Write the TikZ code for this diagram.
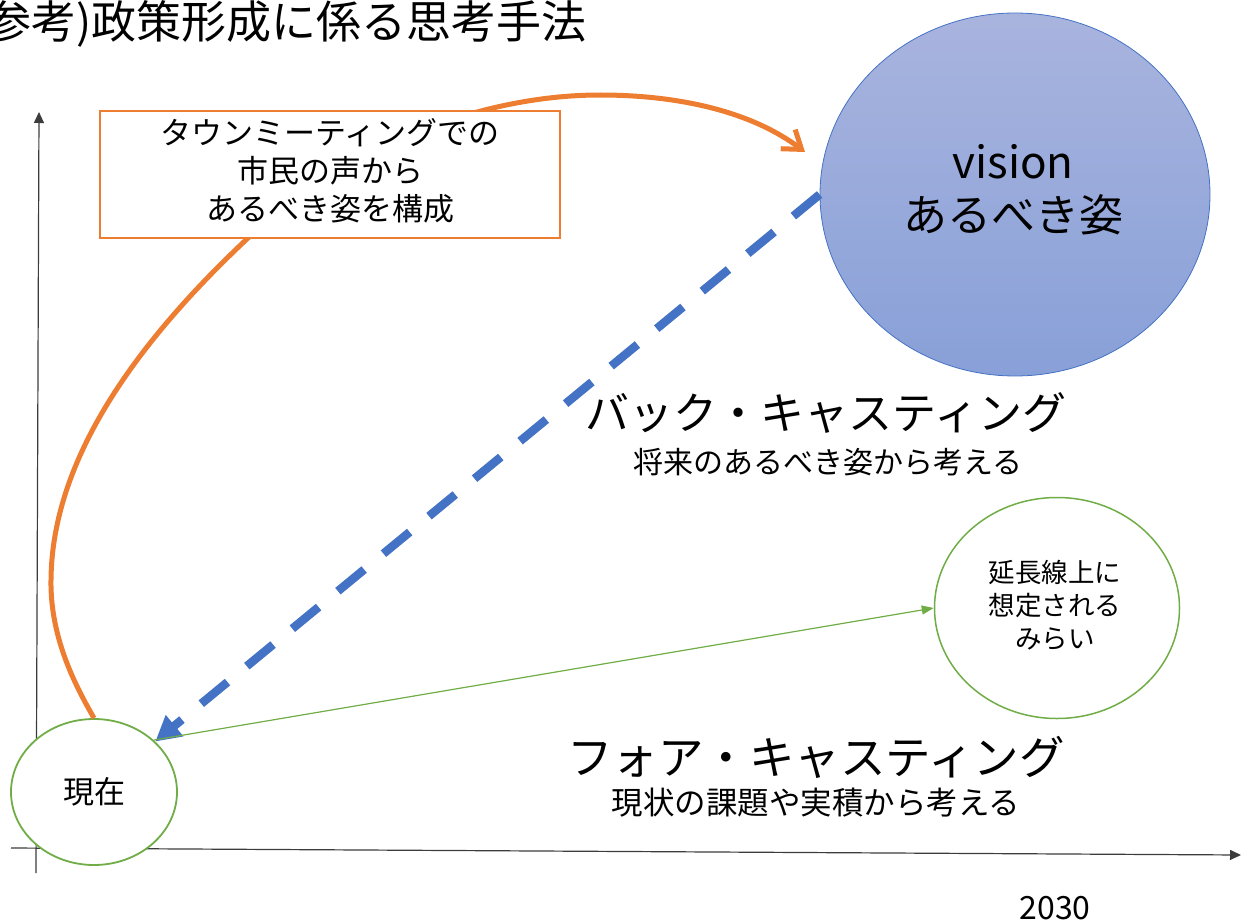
\documentclass[tikz,border=0pt]{standalone}
\usepackage{fontspec}
\setmainfont{Noto Sans CJK JP}
\usetikzlibrary{arrows.meta,shapes.geometric}
\definecolor{orng}{HTML}{ED7D31}
\definecolor{blu}{HTML}{4472C4}
\definecolor{grn}{HTML}{70AD47}
\definecolor{vtop}{RGB}{169,180,222}
\definecolor{vbot}{RGB}{136,160,216}
\definecolor{axiscol}{RGB}{60,60,60}
\begin{document}
\begin{tikzpicture}[x=1pt,y=-1pt,
  txtbig/.style={font=\fontsize{44}{53}\selectfont, inner sep=0pt},
  txtmid/.style={font=\fontsize{30}{38}\selectfont, inner sep=0pt},
  axisline/.style={axiscol, line width=1.2pt, -{Triangle[length=11pt,width=10pt]}},
  circgrn/.style={ellipse, draw=grn, fill=white},
]
\useasboundingbox (0,0) rectangle (1242,923);
\clip (0,0) rectangle (1242,923);

% title
\node[font=\fontsize{45}{54}\selectfont, inner sep=0pt, anchor=east] (title) at (587,24) {(参考)政策形成に係る思考手法};

% axes
\coordinate (yb) at (36,873);
\coordinate (yt) at (39,112);
\coordinate (xl) at (11,848);
\coordinate (xr) at (1241,855);
\draw[axisline] (yb) -- (yt);
\draw[axisline] (xl) -- (xr);

% vision ellipse
\node[ellipse, minimum width=390pt, minimum height=363pt, draw=blu, line width=0.8pt,
      top color=vtop, bottom color=vbot] (vision) at (1015,194.5) {};
\node[txtbig, align=center] (vtext) at (1013,190) {vision\\あるべき姿};

% future ellipse
\node[circgrn, line width=1.5pt, minimum width=245pt, minimum height=221pt] (future) at (1057,608) {};
\node[font=\fontsize{26.5}{33}\selectfont, inner sep=0pt, align=center] (ftext) at (1055,605) {延長線上に\\想定される\\みらい};

% now ellipse
\node[circgrn, line width=1.8pt, minimum width=166pt, minimum height=146pt,
      font=\fontsize{31}{37}\selectfont] (now) at (94,792) {現在};

% orange curve
\coordinate (tipV) at (805,152);
\draw[orng, line width=5pt, -{Straight Barb[length=17pt,width=24pt]}]
  (now.north) .. controls (78,690) and (50,640) .. (51,580)
  .. controls (52,450) and (150,330) .. (248,238)
  .. controls (340,152) and (475,95) .. (600,95)
  .. controls (680,95) and (752,112) .. (tipV);

% box
\node[draw=orng, line width=1.8pt, fill=white, minimum width=460pt, minimum height=127pt] (box) at (330,174.5) {};
\node[align=center, inner sep=0pt, font=\fontsize{31}{38}\selectfont] (boxtext) at (330,171)
  {タウンミーティングでの\\市民の声から\\あるべき姿を構成};

% back casting arrow
\draw[blu, line width=8.5pt, dash pattern=on 34pt off 25pt,
      -{Triangle[length=25pt,width=26pt]}] (vision.west) -- (now);

% fore casting arrow
\draw[grn, line width=1.2pt, -{Triangle[length=12pt,width=9pt]}] (now.41) -- (future.west);

% labels
\node[txtbig] (back) at (826,413) {バック・キャスティング};
\node[txtmid] (backsub) at (828,462) {将来のあるべき姿から考える};
\node[font=\fontsize{45.5}{54}\selectfont, inner sep=0pt] (fore) at (816,757) {フォア・キャスティング};
\node[font=\fontsize{31.5}{38}\selectfont, inner sep=0pt] (foresub) at (816,803) {現状の課題や実積から考える};
\node[font=\fontsize{32}{38}\selectfont, inner sep=0pt] (year) at (1055,908) {2030};
\end{tikzpicture}
\end{document}
